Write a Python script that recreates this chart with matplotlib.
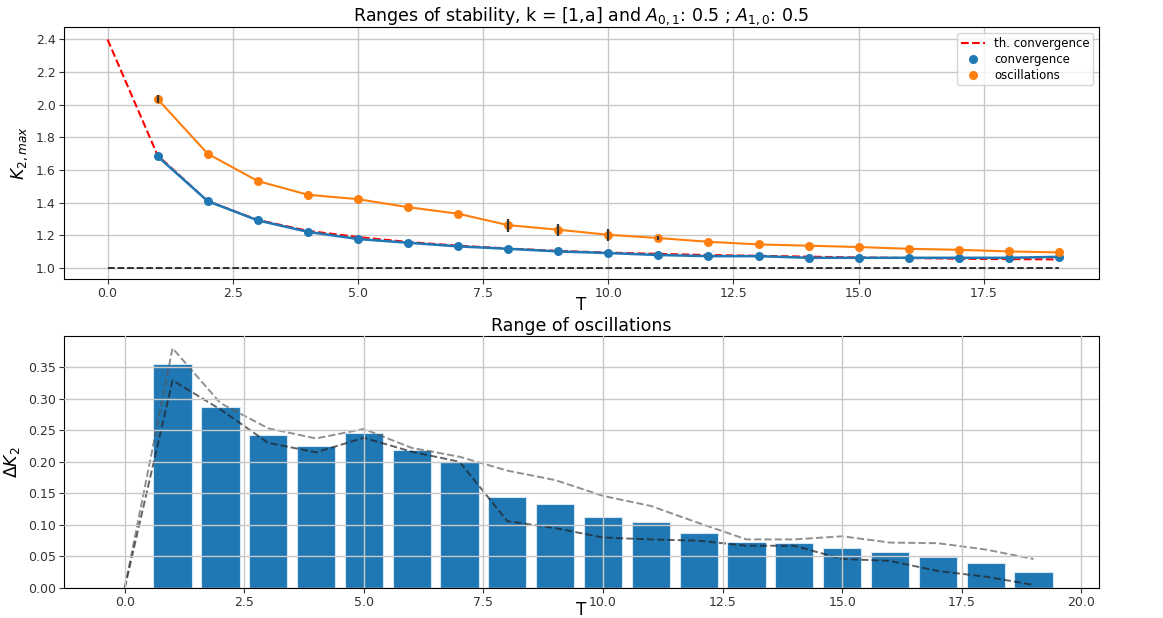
import matplotlib
matplotlib.use("Agg")
import matplotlib.pyplot as plt

# ---------------- data ----------------
T = list(range(1, 20))
T_th = list(range(0, 20))

th_conv = [2.40, 1.69, 1.41, 1.295, 1.228, 1.19, 1.16, 1.137, 1.12, 1.105,
           1.095, 1.087, 1.08, 1.075, 1.07, 1.065, 1.062, 1.057, 1.055, 1.053]
conv = [1.684, 1.410, 1.292, 1.222, 1.178, 1.155, 1.133, 1.118, 1.102, 1.092,
        1.080, 1.073, 1.073, 1.063, 1.063, 1.063, 1.063, 1.063, 1.069]
osc = [2.035, 1.700, 1.533, 1.449, 1.422, 1.373, 1.333, 1.263, 1.235, 1.204,
       1.184, 1.161, 1.145, 1.137, 1.129, 1.118, 1.112, 1.102, 1.096]
osc_err = [0.022, 0, 0, 0, 0, 0, 0, 0.04, 0.037, 0.037,
           0.014, 0, 0, 0, 0, 0, 0, 0, 0]

dK = [0.355, 0.287, 0.242, 0.225, 0.245, 0.218, 0.199, 0.145, 0.133, 0.113,
      0.104, 0.087, 0.073, 0.072, 0.064, 0.057, 0.049, 0.040, 0.025]
dK_upper = [0, 0.380, 0.293, 0.253, 0.237, 0.252, 0.222, 0.208, 0.186, 0.171,
            0.146, 0.130, 0.103, 0.077, 0.077, 0.082, 0.072, 0.071, 0.061, 0.046]
dK_lower = [0, 0.329, 0.283, 0.230, 0.215, 0.238, 0.216, 0.200, 0.106, 0.095,
            0.080, 0.077, 0.075, 0.067, 0.067, 0.046, 0.043, 0.027, 0.018, 0.005]

blue = '#1f77b4'
orange = '#ff7f0e'
tick_size = 9
title_size = 12.5

fig = plt.figure(figsize=(11.63, 6.18), dpi=100)

# ---------------- top plot ----------------
ax1 = fig.add_axes([0.055, 0.5485, 0.89, 0.4075])
ax1.plot(T_th, th_conv, '--', color='red', label='th. convergence', zorder=1.8)
ax1.plot(T, conv, '-', color=blue, lw=1.8, zorder=2)
ax1.plot(T, osc, '-', color=orange, lw=1.5, zorder=2)
ax1.scatter(T, conv, color=blue, s=30, label='convergence', zorder=4)
ax1.scatter(T, osc, color=orange, s=30, label='oscillations', zorder=4)
ax1.errorbar(T, osc, yerr=osc_err, fmt='none', ecolor='#333333', elinewidth=1.6, zorder=5)
ax1.plot([0, 19], [1.0, 1.0], '--', color='#222222', lw=1.3)
ax1.set_xlim(-0.87, 19.8)
ax1.set_ylim(0.933, 2.475)
ax1.set_xticks([0, 2.5, 5, 7.5, 10, 12.5, 15, 17.5])
ax1.set_yticks([1.0, 1.2, 1.4, 1.6, 1.8, 2.0, 2.2, 2.4])
ax1.tick_params(labelsize=tick_size, colors='#333333', pad=2.5)
ax1.grid(True, color='#c8c8c8', lw=1)
ax1.set_axisbelow(True)
ax1.set_xlabel('T', fontsize=12, labelpad=-3)
ax1.set_ylabel(r'$K_{2,max}$', fontsize=12.5)
ax1.set_title(r'Ranges of stability, k = [1,a] and $A_{0,1}$: 0.5 ; $A_{1,0}$: 0.5',
              fontsize=title_size, pad=4)
ax1.legend(loc='upper right', fontsize=8.5, handlelength=2, borderpad=0.3, labelspacing=0.25)

# ---------------- bottom plot ----------------
ax2 = fig.add_axes([0.055, 0.0485, 0.89, 0.4075])
ax2.bar(T, dK, width=0.8, color=blue, edgecolor='#d6e6f2', lw=0.8)
ax2.plot(T_th, dK_upper, '--', color='#555555', alpha=0.65, lw=1.4)
ax2.plot(T_th, dK_lower, '--', color='#222222', alpha=0.7, lw=1.4)
ax2.set_xlim(-1.27, 20.37)
ax2.set_ylim(0, 0.399)
ax2.set_xticks([0, 2.5, 5, 7.5, 10, 12.5, 15, 17.5, 20])
ax2.set_yticks([0, 0.05, 0.10, 0.15, 0.20, 0.25, 0.30, 0.35])
ax2.tick_params(labelsize=tick_size, colors='#333333', pad=2.5)
ax2.grid(True, color='#c8c8c8', lw=1)
ax2.set_axisbelow(False)
ax2.set_xlabel('T', fontsize=12, labelpad=-6)
ax2.set_ylabel(r'$\Delta K_2$', fontsize=12.5)
ax2.set_title('Range of oscillations', fontsize=title_size, pad=4)

plt.savefig('out.png', dpi=100)
